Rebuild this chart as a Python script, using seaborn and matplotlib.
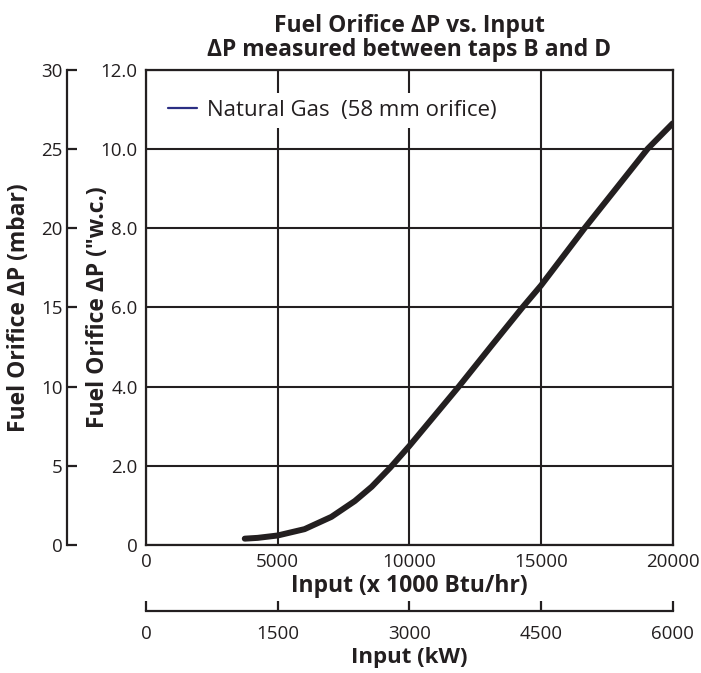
import matplotlib
matplotlib.use("Agg")
import matplotlib.pyplot as plt
from matplotlib.lines import Line2D
import seaborn as sns
import pandas as pd

# curve (input in x1000 Btu/hr, dP in inches w.c.)
input_kbtu = [3750, 4240, 5000, 6020, 7040, 7930, 8570, 9270, 10000, 10890,
              11880, 13120, 14300, 15000, 16660, 17820, 19050, 20000]
dp_wc = [0.16, 0.18, 0.24, 0.40, 0.71, 1.11, 1.47, 1.95, 2.5, 3.21,
         4.0, 5.03, 6.0, 6.55, 8.0, 8.97, 10.0, 10.64]

btu_ticks = [0, 5000, 10000, 15000, 20000]
wc_ticks = [0, 2, 4, 6, 8, 10, 12]
wc_labels = ["0", "2.0", "4.0", "6.0", "8.0", "10.0", "12.0"]
mbar_ticks = [0, 5, 10, 15, 20, 25, 30]
kw_ticks = [0, 1500, 3000, 4500, 6000]

legend_label = "Natural Gas  (58 mm orifice)"
ink = "#231f20"

sns.set_theme(style="white")
plt.rcParams['font.family'] = ['Open Sans', 'DejaVu Sans']
plt.rcParams['text.color'] = ink
plt.rcParams['axes.labelcolor'] = ink
plt.rcParams['xtick.color'] = ink
plt.rcParams['ytick.color'] = ink

df = pd.DataFrame({"input": input_kbtu, "dp": dp_wc})

fig = plt.figure(figsize=(7.01, 6.73), dpi=100)
ax = fig.add_axes([0.2083, 0.1902, 0.7513, 0.7065])

sns.lineplot(data=df, x="input", y="dp", ax=ax, color=ink, linewidth=4.3,
             legend=False, zorder=5, solid_joinstyle="round")

ax.set_xlim(0, 20000)
ax.set_ylim(0, 12)
ax.set_xticks(btu_ticks)
ax.set_xticklabels([str(t) for t in btu_ticks])
ax.set_yticks(wc_ticks)
ax.set_yticklabels(wc_labels)
ax.tick_params(axis="both", length=0, labelsize=13.5)
ax.tick_params(axis="x", pad=6)
ax.tick_params(axis="y", pad=6)
ax.grid(True, color=ink, linewidth=1.5)
ax.set_axisbelow(True)
for s in ax.spines.values():
    s.set_visible(True)
    s.set_color(ink)
    s.set_linewidth(1.6)

ax.set_xlabel("Input (x 1000 Btu/hr)", fontsize=16.5, fontweight="bold", labelpad=2)
ax.set_ylabel("Fuel Orifice \u0394P (\"w.c.)", fontsize=16.5, fontweight="bold", labelpad=-6.5)
ax.set_title("Fuel Orifice \u0394P vs. Input\n\u0394P measured between taps B and D",
             fontsize=16.5, fontweight="bold", pad=10, linespacing=1.0)

# legend (thin navy handle on white box, no frame)
handle = Line2D([], [], color="#2b2e83", linewidth=1.6)
leg = ax.legend([handle], [legend_label], loc="upper left",
                bbox_to_anchor=(0.03, 0.95), borderaxespad=0, frameon=True,
                fontsize=16, handlelength=1.3, handletextpad=0.42, borderpad=0.3)
leg.get_frame().set_facecolor("white")
leg.get_frame().set_edgecolor("none")
leg.get_frame().set_alpha(1)
leg.set_zorder(10)

# mbar scale on the far left
ax_mb = ax.twinx()
ax_mb.set_ylim(0, 30)
ax_mb.set_yticks(mbar_ticks)
ax_mb.set_yticklabels([str(t) for t in mbar_ticks])
for name, s in ax_mb.spines.items():
    s.set_visible(name == "left")
ax_mb.spines["left"].set_position(("outward", 57))
ax_mb.spines["left"].set_color(ink)
ax_mb.spines["left"].set_linewidth(1.6)
ax_mb.yaxis.set_ticks_position("left")
ax_mb.yaxis.set_label_position("left")
ax_mb.tick_params(axis="y", direction="in", length=7.5, width=1.6,
                  labelsize=13.5, pad=3)
ax_mb.set_ylabel("Fuel Orifice \u0394P (mbar)", fontsize=16.5, fontweight="bold",
                 labelpad=7)

# kW scale below
ax_kw = ax.twiny()
ax_kw.set_xlim(0, 6000)
ax_kw.set_xticks(kw_ticks)
ax_kw.set_xticklabels([str(t) for t in kw_ticks])
for name, s in ax_kw.spines.items():
    s.set_visible(name == "bottom")
ax_kw.spines["bottom"].set_position(("outward", 47.5))
ax_kw.spines["bottom"].set_color(ink)
ax_kw.spines["bottom"].set_linewidth(1.6)
ax_kw.xaxis.set_ticks_position("bottom")
ax_kw.xaxis.set_label_position("bottom")
ax_kw.tick_params(axis="x", direction="in", length=7, width=1.6,
                  labelsize=13.5, pad=10)
ax_kw.set_xlabel("Input (kW)", fontsize=16, fontweight="bold", labelpad=3)

fig.savefig("out.png", dpi=100)
